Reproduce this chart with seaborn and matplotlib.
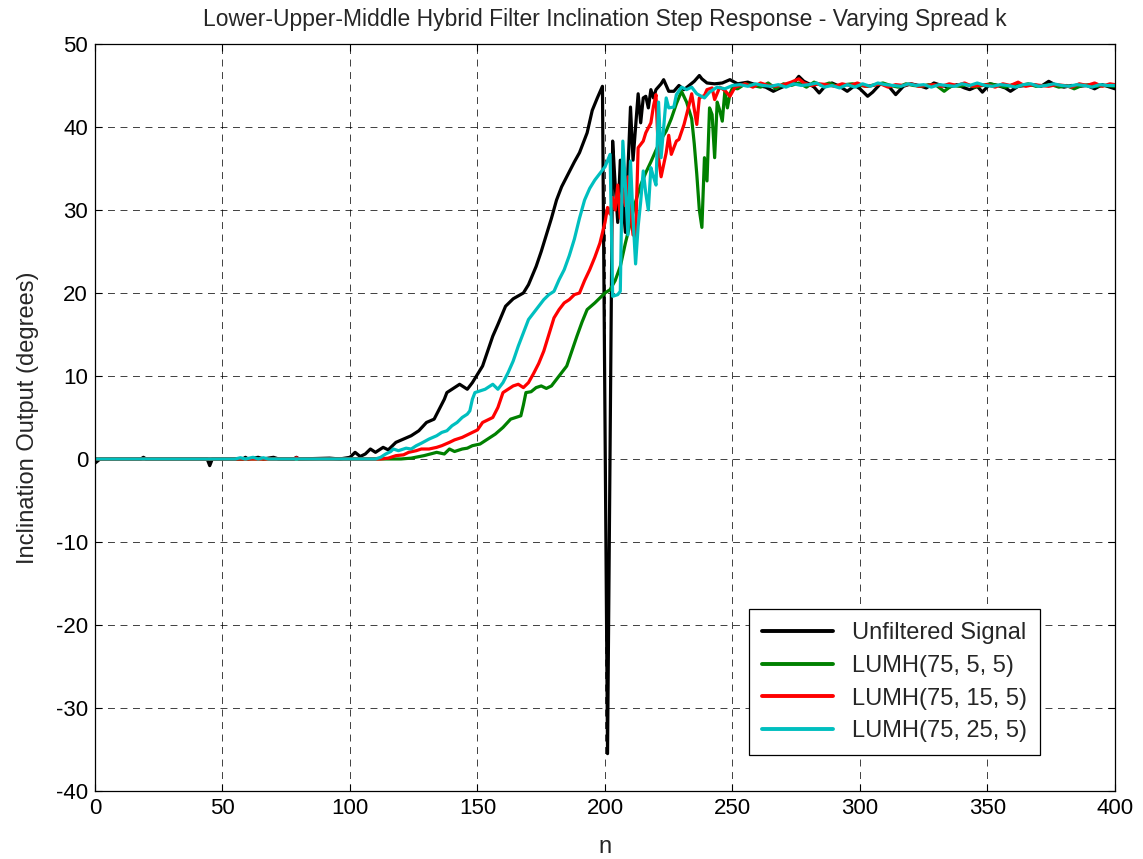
import matplotlib
matplotlib.use("Agg")
import matplotlib.pyplot as plt
import pandas as pd
import seaborn as sns

# Step response of each filter: (sample index n, inclination in degrees)
unfiltered = [
    (0, -0.5), (2, 0.0), (18, 0.0), (19, 0.2), (20, 0.0), (44, 0.0), (45, -0.8), (46, 0.0),
    (58, 0.0), (59, 0.2), (60, 0.0), (64, 0.2), (66, 0.0), (70, 0.2), (72, 0.0), (78, 0.0),
    (79, 0.2), (80, 0.0), (92, 0.1), (96, 0.0), (100, 0.2), (102, 0.8), (104, 0.3), (106, 0.6),
    (108, 1.2), (110, 0.8), (113, 1.4), (115, 1.1), (118, 2.0), (121, 2.4), (124, 2.8),
    (127, 3.4), (130, 4.4), (133, 4.8), (135, 6.0), (137, 7.2), (138, 8.0), (140, 8.4),
    (143, 9.0), (146, 8.4), (148, 9.2), (150, 10.2), (152, 11.2), (154, 13.0), (156, 14.8),
    (158, 16.2), (161, 18.4), (164, 19.3), (168, 20.0), (170, 21.0), (173, 23.2), (175, 25.0),
    (177, 27.0), (179, 29.0), (181, 31.2), (183, 32.8), (185, 34.0), (188, 35.8), (190, 36.9),
    (193, 39.3), (195, 42.0), (197, 43.5), (199, 44.9), (201, -35.5), (203, 38.3), (204, 33.0),
    (205, 28.5), (206, 36.0), (207, 31.0), (208, 27.3), (209, 35.0), (210, 42.4), (211, 36.0),
    (212, 40.0), (213, 44.0), (214, 40.5), (215, 43.5), (216, 43.7), (217, 42.3), (218, 44.5),
    (219, 43.5), (220, 44.5), (222, 45.2), (223, 45.7), (225, 44.3), (227, 44.3), (229, 45.0),
    (231, 44.5), (233, 45.0), (235, 45.5), (237, 46.2), (238, 45.8), (240, 45.3), (243, 45.2),
    (246, 45.3), (249, 45.7), (252, 45.2), (256, 45.4), (260, 45.0), (263, 44.8), (266, 44.3),
    (268, 44.6), (271, 45.0), (274, 45.3), (276, 46.1), (278, 45.5), (280, 45.2), (282, 44.8),
    (284, 44.1), (286, 44.8), (289, 45.3), (292, 44.9), (295, 44.3), (298, 45.0), (300, 44.6),
    (303, 43.7), (305, 44.2), (308, 45.2), (311, 45.0), (314, 43.9), (317, 44.9), (320, 45.2),
    (323, 45.0), (326, 44.7), (329, 45.3), (332, 45.0), (335, 44.8), (338, 45.1), (341, 44.7),
    (343, 44.5), (346, 44.9), (348, 44.2), (351, 45.2), (354, 45.0), (357, 44.7), (359, 44.3),
    (362, 44.9), (365, 45.0), (368, 45.1), (371, 44.9), (374, 45.5), (377, 45.0), (380, 44.8),
    (383, 45.0), (386, 44.9), (389, 45.0), (392, 44.6), (395, 45.1), (398, 44.8), (400, 44.6),
]

lumh_k5 = [
    (0, 0.0), (120, 0.0), (124, 0.1), (129, 0.4), (134, 0.8), (137, 0.6), (139, 1.2), (141, 0.9),
    (144, 1.2), (146, 1.3), (148, 1.6), (151, 1.8), (154, 2.4), (157, 3.0), (160, 3.8),
    (163, 4.8), (165, 5.0), (167, 5.2), (168, 6.5), (169, 8.0), (171, 8.1), (173, 8.6),
    (175, 8.8), (177, 8.5), (179, 8.8), (182, 10.0), (185, 11.2), (187, 13.0), (189, 14.8),
    (191, 16.5), (193, 18.0), (196, 18.8), (198, 19.4), (200, 20.0), (202, 20.4), (204, 21.5),
    (206, 23.2), (208, 26.0), (210, 28.5), (212, 31.0), (214, 33.0), (216, 34.5), (218, 35.8),
    (220, 37.2), (222, 38.5), (224, 39.5), (226, 41.0), (228, 42.8), (230, 44.3), (232, 43.0),
    (234, 41.0), (235, 38.0), (236, 34.3), (237, 30.0), (238, 27.9), (239, 36.3), (240, 33.5),
    (241, 42.3), (242, 41.5), (243, 36.3), (244, 43.0), (245, 42.0), (246, 40.7), (247, 44.3),
    (248, 42.3), (249, 44.0), (250, 44.7), (252, 44.6), (255, 45.2), (258, 45.0), (261, 44.8),
    (264, 45.3), (267, 44.6), (270, 45.2), (273, 45.0), (276, 45.3), (279, 44.8), (282, 45.4),
    (285, 45.0), (288, 45.3), (291, 44.9), (294, 45.1), (297, 45.2), (300, 45.0), (303, 44.9),
    (306, 45.1), (309, 45.3), (312, 45.0), (315, 44.8), (318, 45.2), (321, 45.0), (324, 44.9),
    (327, 45.1), (330, 45.0), (333, 44.3), (336, 45.0), (339, 44.9), (342, 45.1), (345, 44.8),
    (348, 45.0), (351, 45.2), (354, 45.0), (357, 44.8), (360, 45.1), (363, 45.0), (366, 45.2),
    (369, 44.9), (372, 45.0), (375, 45.1), (378, 44.8), (381, 45.0), (384, 44.6), (387, 45.0),
    (390, 45.1), (393, 44.9), (396, 45.0), (400, 44.9),
]

lumh_k15 = [
    (0, 0.0), (78, 0.0), (79, 0.15), (80, 0.0), (112, 0.0), (115, 0.1), (118, 0.4), (121, 0.5),
    (123, 0.8), (126, 1.0), (128, 1.2), (131, 1.2), (134, 1.4), (136, 1.6), (139, 2.0),
    (141, 2.3), (144, 2.6), (146, 2.9), (148, 3.2), (150, 3.5), (152, 4.4), (154, 4.7),
    (156, 5.0), (158, 6.2), (160, 8.0), (162, 8.4), (164, 8.8), (166, 9.0), (168, 8.6),
    (170, 9.2), (172, 10.3), (174, 11.5), (176, 13.0), (178, 15.0), (180, 17.0), (182, 18.0),
    (184, 18.8), (186, 19.2), (188, 19.8), (190, 20.0), (192, 21.5), (194, 22.8), (196, 24.3),
    (198, 26.0), (200, 28.5), (201, 30.3), (202, 29.5), (203, 31.5), (204, 30.0), (205, 33.0),
    (206, 29.0), (207, 32.5), (208, 30.5), (209, 34.0), (210, 30.0), (211, 27.0), (212, 26.8),
    (213, 37.5), (215, 38.3), (216, 39.3), (218, 40.5), (219, 42.5), (220, 43.9), (221, 36.3),
    (222, 34.0), (224, 36.9), (225, 39.0), (226, 36.7), (228, 38.3), (229, 38.5), (231, 40.3),
    (233, 42.7), (234, 44.0), (236, 40.3), (237, 43.5), (239, 43.8), (240, 44.5), (242, 44.7),
    (243, 43.3), (245, 44.8), (247, 44.4), (249, 43.7), (251, 44.8), (253, 45.0), (255, 45.2),
    (258, 44.8), (261, 45.3), (264, 45.0), (267, 44.9), (270, 45.1), (273, 45.4), (276, 45.8),
    (278, 45.3), (281, 45.0), (284, 45.2), (287, 45.1), (290, 44.9), (293, 45.2), (296, 45.0),
    (299, 45.3), (302, 44.9), (305, 45.0), (308, 45.2), (311, 44.8), (314, 45.1), (317, 45.0),
    (320, 45.2), (323, 44.9), (326, 45.0), (329, 45.1), (332, 44.9), (335, 45.2), (338, 45.0),
    (341, 45.3), (344, 44.9), (347, 45.0), (350, 45.1), (353, 44.8), (356, 45.2), (359, 45.0),
    (362, 45.4), (365, 44.9), (368, 45.1), (371, 45.0), (374, 44.9), (377, 45.1), (380, 45.0),
    (383, 44.8), (386, 45.2), (389, 45.0), (392, 45.3), (395, 44.9), (398, 45.2), (400, 45.1),
]

lumh_k25 = [
    (0, 0.0), (55, 0.0), (57, 0.15), (59, 0.0), (62, 0.2), (64, 0.0), (66, 0.15), (68, 0.0),
    (110, 0.0), (112, 0.2), (114, 0.6), (116, 0.9), (117, 1.2), (119, 1.0), (122, 1.3),
    (124, 1.2), (126, 1.6), (128, 1.9), (131, 2.4), (134, 2.8), (136, 3.2), (138, 3.4),
    (140, 4.0), (142, 4.4), (144, 5.0), (146, 5.4), (147, 5.8), (148, 7.2), (149, 8.0),
    (151, 8.2), (153, 8.4), (155, 8.8), (156, 9.0), (158, 8.4), (160, 9.2), (162, 10.4),
    (164, 11.8), (166, 13.6), (168, 15.2), (170, 16.8), (172, 17.6), (174, 18.4), (176, 19.2),
    (178, 19.8), (180, 20.2), (182, 21.6), (184, 22.8), (186, 24.5), (188, 26.5), (190, 29.0),
    (192, 31.2), (194, 32.6), (196, 33.6), (198, 34.4), (200, 35.2), (202, 36.7), (203, 19.6),
    (205, 19.8), (206, 20.2), (207, 38.3), (208, 33.0), (209, 27.0), (210, 35.9), (211, 29.0),
    (212, 23.5), (213, 28.0), (214, 31.0), (215, 34.7), (216, 32.0), (217, 30.0), (218, 35.1),
    (219, 34.0), (220, 33.0), (221, 43.0), (222, 36.3), (224, 43.5), (225, 42.3), (227, 42.4),
    (228, 43.9), (230, 44.8), (232, 44.5), (234, 44.8), (236, 44.0), (239, 43.5), (241, 44.2),
    (244, 44.8), (247, 44.6), (250, 45.0), (253, 45.1), (256, 44.9), (259, 45.2), (262, 45.0),
    (265, 44.9), (268, 45.1), (271, 44.8), (274, 45.2), (277, 45.0), (280, 45.1), (283, 45.3),
    (286, 44.8), (289, 45.0), (292, 44.7), (295, 45.1), (298, 44.8), (301, 45.2), (304, 44.9),
    (307, 45.3), (310, 45.1), (313, 45.0), (316, 44.9), (319, 45.2), (322, 45.0), (325, 45.1),
    (328, 44.8), (331, 45.1), (334, 45.0), (337, 44.9), (340, 45.2), (343, 45.0), (346, 45.3),
    (349, 45.0), (352, 44.9), (355, 45.1), (358, 45.0), (361, 44.8), (364, 45.1), (367, 45.2),
    (370, 44.9), (373, 45.0), (376, 45.2), (379, 45.0), (382, 44.9), (385, 45.1), (388, 45.0),
    (391, 44.8), (394, 45.1), (397, 45.0), (400, 45.0),
]

series_names = ["Unfiltered Signal", "LUMH(75, 5, 5)", "LUMH(75, 15, 5)", "LUMH(75, 25, 5)"]
series_colors = ["#000000", "#008000", "#FF0000", "#00BFBF"]
x_ticks = list(range(0, 401, 50))
y_ticks = list(range(-40, 51, 10))

frames = []
for name, pts in zip(series_names, [unfiltered, lumh_k5, lumh_k15, lumh_k25]):
    df = pd.DataFrame(pts, columns=["n", "deg"])
    df["series"] = name
    frames.append(df)
data = pd.concat(frames, ignore_index=True)

sns.set_style("white")
plt.rcParams["font.family"] = ["Liberation Sans", "DejaVu Sans"]
plt.rcParams["lines.scale_dashes"] = False
plt.rcParams["axes.unicode_minus"] = False

fig = plt.figure(figsize=(11.43, 8.59), dpi=100)
ax = fig.add_axes([0.0831, 0.0792, 0.8924, 0.8696])

sns.lineplot(
    data=data, x="n", y="deg", hue="series", hue_order=series_names,
    palette=dict(zip(series_names, series_colors)), estimator=None, sort=False,
    linewidth=2.3, ax=ax, legend=True,
)

ax.set_xlim(0, 400)
ax.set_ylim(-40, 50)
ax.set_xticks(x_ticks)
ax.set_yticks(y_ticks)
ax.grid(True, color="#000000", linestyle=(0, (5, 4)), linewidth=0.7, alpha=0.75)
ax.tick_params(direction="in", length=5, width=0.8, labelsize=16, pad=5,
               top=True, right=True, bottom=True, left=True, colors="black")
for sp in ax.spines.values():
    sp.set_color("black")
    sp.set_linewidth(0.9)

ax.set_xlabel("n", fontsize=17, labelpad=12)
ax.set_ylabel("Inclination Output (degrees)", fontsize=17, labelpad=12)
ax.set_title("Lower-Upper-Middle Hybrid Filter Inclination Step Response - Varying Spread k",
             fontsize=16.5, pad=13)

handles, labels = ax.get_legend_handles_labels()
leg = ax.legend(handles, labels, loc="lower right", bbox_to_anchor=(0.926, 0.048),
                borderaxespad=0, fontsize=17, frameon=True, fancybox=False, framealpha=1,
                edgecolor="black", handlelength=3.0, borderpad=0.55, labelspacing=0.45,
                handletextpad=0.8)
leg.get_frame().set_linewidth(0.9)
for h in leg.get_lines():
    h.set_linewidth(2.8)

fig.savefig("out.png", dpi=100)
